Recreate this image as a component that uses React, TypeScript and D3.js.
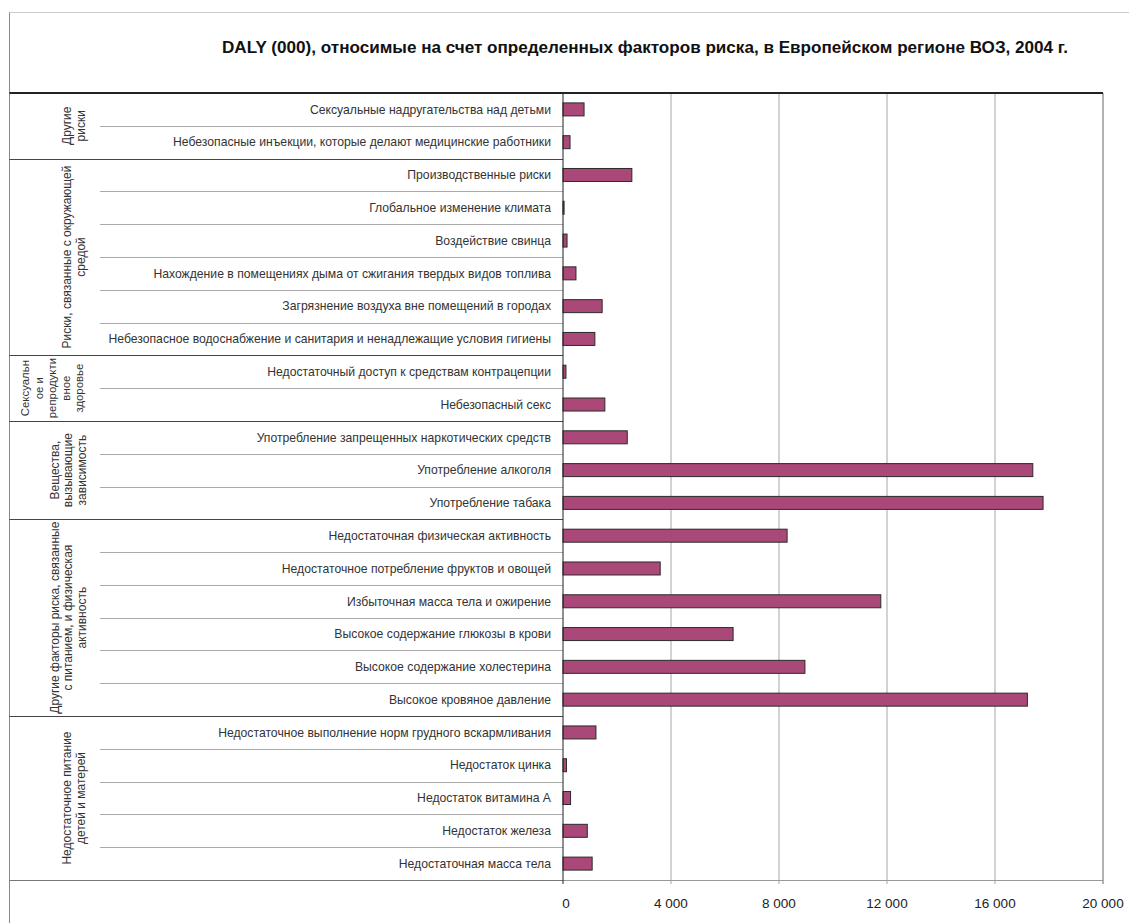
import * as React from 'react'
import * as d3 from 'd3'

const width = 1129
const height = 923
const plot = { top: 93, bottom: 880, left: 563, right: 1103 }
const barFill = '#aa4878'
const barStroke = '#2b2b2b'
const font = 'Arial, "Liberation Sans", sans-serif'

const title =
  'DALY (000), относимые на счет определенных факторов риска, в Европейском регионе ВОЗ, 2004 г.'

const groupLabels = [
  ['Другие', 'риски'],
  ['Риски, связанные с окружающей', 'средой'],
  ['Сексуальн', 'ое и', 'репродукти', 'вное', 'здоровье'],
  ['Вещества,', 'вызывающие', 'зависимость'],
  ['Другие факторы риска, связанные', 'с питанием, и физическая', 'активность'],
  ['Недостаточное питание', 'детей и матерей'],
]
const groupSizes = [2, 6, 2, 3, 6, 5]

const categories = [
  'Сексуальные надругательства над детьми',
  'Небезопасные инъекции, которые делают медицинские работники',
  'Производственные риски',
  'Глобальное изменение климата',
  'Воздействие свинца',
  'Нахождение в помещениях дыма от сжигания твердых видов топлива',
  'Загрязнение воздуха вне помещений в городах',
  'Небезопасное водоснабжение и санитария и ненадлежащие условия гигиены',
  'Недостаточный доступ к средствам контрацепции',
  'Небезопасный секс',
  'Употребление запрещенных наркотических средств',
  'Употребление алкоголя',
  'Употребление табака',
  'Недостаточная физическая активность',
  'Недостаточное потребление фруктов и овощей',
  'Избыточная масса тела и ожирение',
  'Высокое содержание глюкозы в крови',
  'Высокое содержание холестерина',
  'Высокое кровяное давление',
  'Недостаточное выполнение норм грудного вскармливания',
  'Недостаток цинка',
  'Недостаток витамина А',
  'Недостаток железа',
  'Недостаточная масса тела',
]
const values = [
  780, 260, 2550, 40, 150, 480, 1450, 1180, 110, 1550, 2380, 17400, 17780,
  8300, 3600, 11770, 6300, 8960, 17200, 1220, 130, 280, 900, 1080,
]
const ticks = [0, 4000, 8000, 12000, 16000, 20000]

const locale = d3.formatLocale({ decimal: ',', thousands: ' ', grouping: [3], currency: ['', ''] })
const fmt = locale.format(',')

export default function App() {
  const x = d3.scaleLinear().domain([0, 20000]).range([plot.left, plot.right])
  const y = d3.scaleBand<string>().domain(categories).range([plot.top, plot.bottom]).padding(0)
  const step = y.step()
  const barH = 13

  // first row of each group
  const starts = groupSizes.map((_, i) => d3.sum(groupSizes.slice(0, i)))
  const boundaryRows = new Set(starts)

  return (
    <svg
      width={width}
      height={height}
      style={{ position: 'absolute', left: 0, top: 0, background: '#fff' }}
      fontFamily={font}
    >
      {/* outer frame */}
      <line x1={9.5} x2={width} y1={12.5} y2={12.5} stroke="#ccc" />
      <line x1={9.5} x2={9.5} y1={12.5} y2={height} stroke="#888" />

      <text
        x={645}
        y={53}
        textAnchor="middle"
        fontSize={16}
        fontWeight="bold"
        fill="#111"
        textLength={846}
        lengthAdjust="spacingAndGlyphs"
      >
        {title}
      </text>

      {/* grid */}
      {ticks.slice(1).map(t => (
        <line
          key={t}
          x1={x(t)}
          x2={x(t)}
          y1={plot.top}
          y2={plot.bottom + 4}
          stroke={t === 20000 ? '#999' : '#b5b5b5'}
          strokeWidth={t === 20000 ? 1.5 : 1.2}
        />
      ))}

      {/* row separators */}
      {categories.map((c, i) => {
        if (i === 0) return null
        const yy = Math.round(y(c)!) + 0.5
        const isGroup = boundaryRows.has(i)
        return (
          <line
            key={c}
            x1={isGroup ? 9.5 : 100}
            x2={plot.left}
            y1={yy}
            y2={yy}
            stroke={isGroup ? '#444' : '#aaa'}
            strokeWidth={isGroup ? 1.2 : 1}
          />
        )
      })}
      <line x1={9.5} x2={plot.left} y1={plot.bottom + 0.5} y2={plot.bottom + 0.5} stroke="#777" />
      <line x1={plot.left} x2={plot.right} y1={plot.bottom + 0.5} y2={plot.bottom + 0.5} stroke="#999" />

      {/* top thick line */}
      <line x1={9.5} x2={plot.right} y1={plot.top} y2={plot.top} stroke="#222" strokeWidth={2} />

      {/* bars */}
      {categories.map((c, i) => (
        <rect
          key={c}
          x={x(0)}
          y={y(c)! + (step - barH) / 2}
          width={Math.max(1, x(values[i]) - x(0))}
          height={barH}
          fill={barFill}
          stroke={barStroke}
          strokeWidth={1}
        />
      ))}

      {/* zero axis */}
      <line x1={x(0)} x2={x(0)} y1={plot.top} y2={plot.bottom + 4} stroke="#222" />

      {/* category labels */}
      {categories.map(c => (
        <text
          key={c}
          x={551}
          y={y(c)! + step / 2}
          dy="0.35em"
          textAnchor="end"
          fontSize={12.2}
          fill="#333"
        >
          {c}
        </text>
      ))}

      {/* group labels */}
      {groupLabels.map((lines, gi) => {
        const y0 = y(categories[starts[gi]])!
        const yc = y0 + (groupSizes[gi] * step) / 2
        const lh = 13.5
        const cx = lines.length >= 5 ? 52 : lines.length === 3 ? 68 : 74
        return (
          <g key={gi}>
            {lines.map((l, li) => {
              const xx = cx + (li - (lines.length - 1) / 2) * lh
              return (
                <text
                  key={li}
                  transform={`translate(${xx},${yc}) rotate(-90)`}
                  textAnchor="middle"
                  dy="0.35em"
                  fontSize={lines.length >= 5 ? 11.4 : 12}
                  fill="#333"
                >
                  {l}
                </text>
              )
            })}
          </g>
        )
      })}

      {/* tick labels */}
      {ticks.map(t => (
        <text
          key={t}
          x={x(t) + (t === 0 ? 3 : 0)}
          y={908}
          textAnchor="middle"
          fontSize={13.5}
          fill="#222"
        >
          {fmt(t)}
        </text>
      ))}
    </svg>
  )
}
